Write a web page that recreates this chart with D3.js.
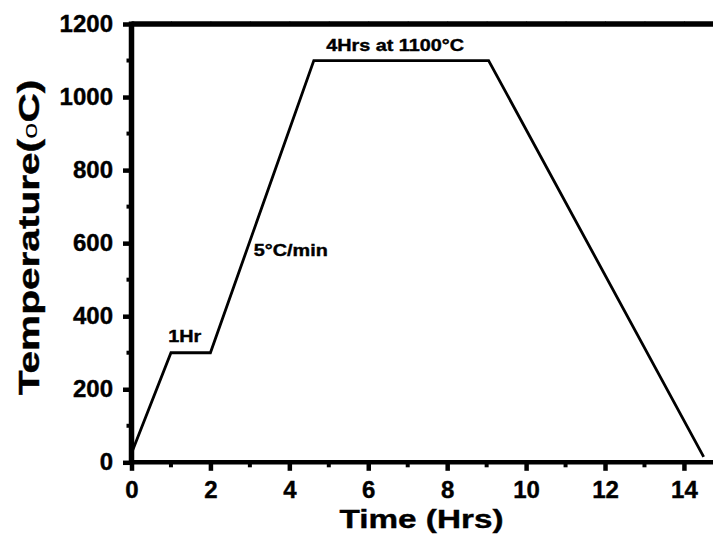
<!DOCTYPE html>
<html>
<head>
<meta charset="utf-8">
<script src="https://cdn.jsdelivr.net/npm/d3@7"></script>
<style>
  body { margin: 0; background: #fff; }
  text { font-family: "Liberation Sans", Arial, sans-serif; font-weight: bold; fill: #000; stroke: #000; stroke-width: 0.4px; }
</style>
</head>
<body>
<div id="chart"></div>
<script>
// heating profile
var timeHrs = [0, 1, 2, 4.62, 9.05, 14.5];
var tempC = [25, 300, 300, 1100, 1100, 15];

var xMajor = [0, 2, 4, 6, 8, 10, 12, 14];
var xMinor = [1, 3, 5, 7, 9, 11, 13];
var yMajor = [0, 200, 400, 600, 800, 1000, 1200];
var yMinor = [100, 300, 500, 700, 900, 1100];

var notes = [
  { t: "1Hr", x: 1.35, y: 330, anchor: "middle" },
  { t: "5°C/min", x: 3.1, y: 565, anchor: "start" },
  { t: "4Hrs at 1100°C", x: 6.68, y: 1127, anchor: "middle" }
];

var W = 713, H = 545;
var svg = d3.select("#chart").append("svg").attr("width", W).attr("height", H);

var x = d3.scaleLinear().domain([0, 15]).range([131.5, 723.4]);
var y = d3.scaleLinear().domain([0, 1200]).range([462.3, 24]);

var data = timeHrs.map(function(d, i) { return { t: d, v: tempC[i] }; });

// the curve
svg.append("path")
  .datum(data)
  .attr("fill", "none")
  .attr("stroke", "#000")
  .attr("stroke-width", 2.8)
  .attr("stroke-linejoin", "miter")
  .attr("d", d3.line().x(function(d) { return x(d.t); }).y(function(d) { return y(d.v); }));

// faint ticks on the top edge
svg.append("g")
  .attr("transform", "translate(0," + y(1200) + ")")
  .call(d3.axisTop(x).tickValues(d3.range(1, 15)).tickSize(3).tickFormat(""))
  .call(function(g) { g.select(".domain").remove(); })
  .selectAll("line").attr("stroke", "#888").attr("stroke-width", 1);

// x axis
var xAxis = svg.append("g").attr("transform", "translate(0," + y(0) + ")");
xAxis.call(d3.axisBottom(x).tickValues(xMajor).tickSize(8.5).tickPadding(10).tickFormat(d3.format("d")))
  .call(function(g) { g.select(".domain").remove(); });
xAxis.selectAll(".tick line").attr("stroke", "#000").attr("stroke-width", 4.5);
xAxis.selectAll(".tick text").style("font-size", "24px");
xAxis.append("g").selectAll("line").data(xMinor).enter().append("line")
  .attr("x1", function(d) { return x(d); }).attr("x2", function(d) { return x(d); })
  .attr("y1", 0).attr("y2", 5)
  .attr("stroke", "#000").attr("stroke-width", 4);

// y axis
var yAxis = svg.append("g").attr("transform", "translate(" + x(0) + ",0)");
yAxis.call(d3.axisLeft(y).tickValues(yMajor).tickSize(8.5).tickPadding(10).tickFormat(d3.format("d")))
  .call(function(g) { g.select(".domain").remove(); });
yAxis.selectAll(".tick line").attr("stroke", "#000").attr("stroke-width", 4.5);
yAxis.selectAll(".tick text").style("font-size", "24px");
yAxis.append("g").selectAll("line").data(yMinor).enter().append("line")
  .attr("y1", function(d) { return y(d); }).attr("y2", function(d) { return y(d); })
  .attr("x1", 0).attr("x2", -5)
  .attr("stroke", "#000").attr("stroke-width", 4);

// frame
svg.append("line").attr("x1", x(0)).attr("x2", x(15)).attr("y1", y(0)).attr("y2", y(0))
  .attr("stroke", "#000").attr("stroke-width", 4.5);
svg.append("line").attr("x1", x(0)).attr("x2", x(0)).attr("y1", y(0) + 2).attr("y2", y(1200) - 2.5)
  .attr("stroke", "#000").attr("stroke-width", 5.5);
svg.append("line").attr("x1", x(0)).attr("x2", x(15)).attr("y1", y(1200)).attr("y2", y(1200))
  .attr("stroke", "#000").attr("stroke-width", 5.5);

// notes
svg.append("g").selectAll("text").data(notes).enter().append("text")
  .attr("text-anchor", function(d) { return d.anchor; })
  .attr("transform", function(d) { return "translate(" + x(d.x) + "," + y(d.y) + ") scale(1.2,1)"; })
  .style("font-size", "16.5px")
  .text(function(d) { return d.t; });

// axis titles
svg.append("text")
  .attr("text-anchor", "middle")
  .attr("transform", "translate(421.5,528) scale(1.28,1)")
  .style("font-size", "26px")
  .text("Time (Hrs)");

var yTitle = svg.append("text")
  .attr("text-anchor", "middle")
  .attr("transform", "translate(39,237.5) rotate(-90) scale(1.4,1)")
  .style("font-size", "29px");
yTitle.append("tspan").text("Temperature(");
yTitle.append("tspan").attr("dy", -2).style("font-size", "21px").style("font-weight", "normal").style("stroke-width", "0px").text("o");
yTitle.append("tspan").attr("dy", 2).text("C)");
</script>
</body>
</html>
